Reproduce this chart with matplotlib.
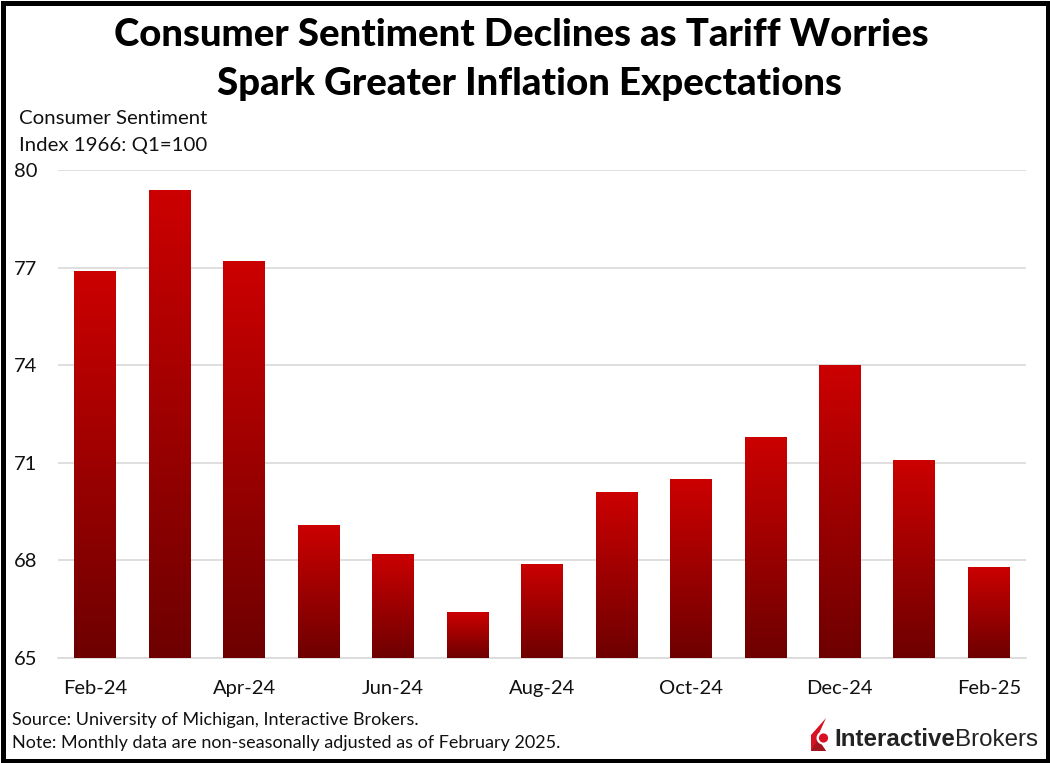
import numpy as np
import matplotlib
matplotlib.use("Agg")
import matplotlib.pyplot as plt
from matplotlib.colors import LinearSegmentedColormap
from matplotlib.patches import Polygon, Circle, Rectangle

months = ["Feb-24","Mar-24","Apr-24","May-24","Jun-24","Jul-24","Aug-24","Sep-24","Oct-24","Nov-24","Dec-24","Jan-25","Feb-25"]
sentiment = [76.9,79.4,77.2,69.1,68.2,66.4,67.9,70.1,70.5,71.8,74.0,71.1,67.8]
yticks = [65,68,71,74,77,80]

W,H = 1050,763
plt.rcParams['font.family'] = ['Lato','DejaVu Sans']
fig = plt.figure(figsize=(W/100,H/100),dpi=100,facecolor='white')
ax = fig.add_axes([58/W,1-658/H,(1026-58)/W,(658-170)/H])
x = np.arange(len(months))
cmap = LinearSegmentedColormap.from_list('r',['#6E0000','#CC0000'])
grad = np.linspace(1,0,256).reshape(-1,1)
bars = ax.bar(x,sentiment,width=0.56,color='none',zorder=3)
for b in bars:
    im = ax.imshow(grad,cmap=cmap,aspect='auto',zorder=3,
                   extent=[b.get_x(),b.get_x()+b.get_width(),65,b.get_height()])
    im.set_clip_path(b)
ax.set_xlim(-0.5,len(months)-0.5)
ax.set_ylim(65,80)
ax.set_yticks(yticks)
ax.set_xticks(x[::2])
ax.set_xticklabels(months[::2])
ax.tick_params(length=0,labelsize=14.5,labelcolor='#111111')
ax.tick_params(axis='x',pad=16)
ax.tick_params(axis='y',pad=15)
ax.grid(axis='y',color='#D9D9D9',lw=1.2,zorder=0)
ax.set_axisbelow(True)
for s in ['top','left','right']:
    ax.spines[s].set_visible(False)
ax.spines['bottom'].set_color('#D9D9D9')
ax.spines['bottom'].set_linewidth(1.2)

def T(px,py,s,**k):
    return fig.text(px/W,1-py/H,s,**k)
T(521.5,35,"Consumer Sentiment Declines as Tariff Worries",ha='center',va='center',fontsize=27.5,fontweight='black',color='black')
T(529,84,"Spark Greater Inflation Expectations",ha='center',va='center',fontsize=27.6,fontweight='black',color='black')
T(19,119,"Consumer Sentiment",ha='left',va='center',fontsize=14.7,color='#111111')
T(19,145,"Index 1966: Q1=100",ha='left',va='center',fontsize=14.7,color='#111111')
T(12,720,"Source: University of Michigan, Interactive Brokers.",ha='left',va='center',fontsize=13,color='#111111')
T(12,743,"Note: Monthly data are non-seasonally adjusted as of February 2025.",ha='left',va='center',fontsize=13,color='#111111')

# logo
la = fig.add_axes([0,0,1,1],facecolor='none')
la.set_xlim(0,W); la.set_ylim(H,0); la.axis('off')
la.add_patch(Polygon([(826,718),(811,735),(811,751),(826,751),(817,738)],closed=True,color='#D81222',lw=0))
la.add_patch(Polygon([(811,751),(826,751),(818,739)],closed=True,color='#A01420',lw=0))
la.add_patch(Circle((823,738),6.5,color='white',lw=0))
la.add_patch(Circle((823.5,738),4.6,color='#D81222',lw=0))
t = la.text(834,740,"Interactive",ha='left',va='center',fontsize=17.4,fontweight='bold',family='Liberation Sans',color='#222222')
fig.canvas.draw()
bb = t.get_window_extent()
la.text(bb.x1+0.5,740,"Brokers",ha='left',va='center',fontsize=17.4,family='Liberation Sans',color='#222222')
# frame
la.add_patch(Rectangle((2.5,2.5),W-5,H-5,fill=False,ec='black',lw=3.6,clip_on=False))
fig.savefig('out.png',dpi=100)
